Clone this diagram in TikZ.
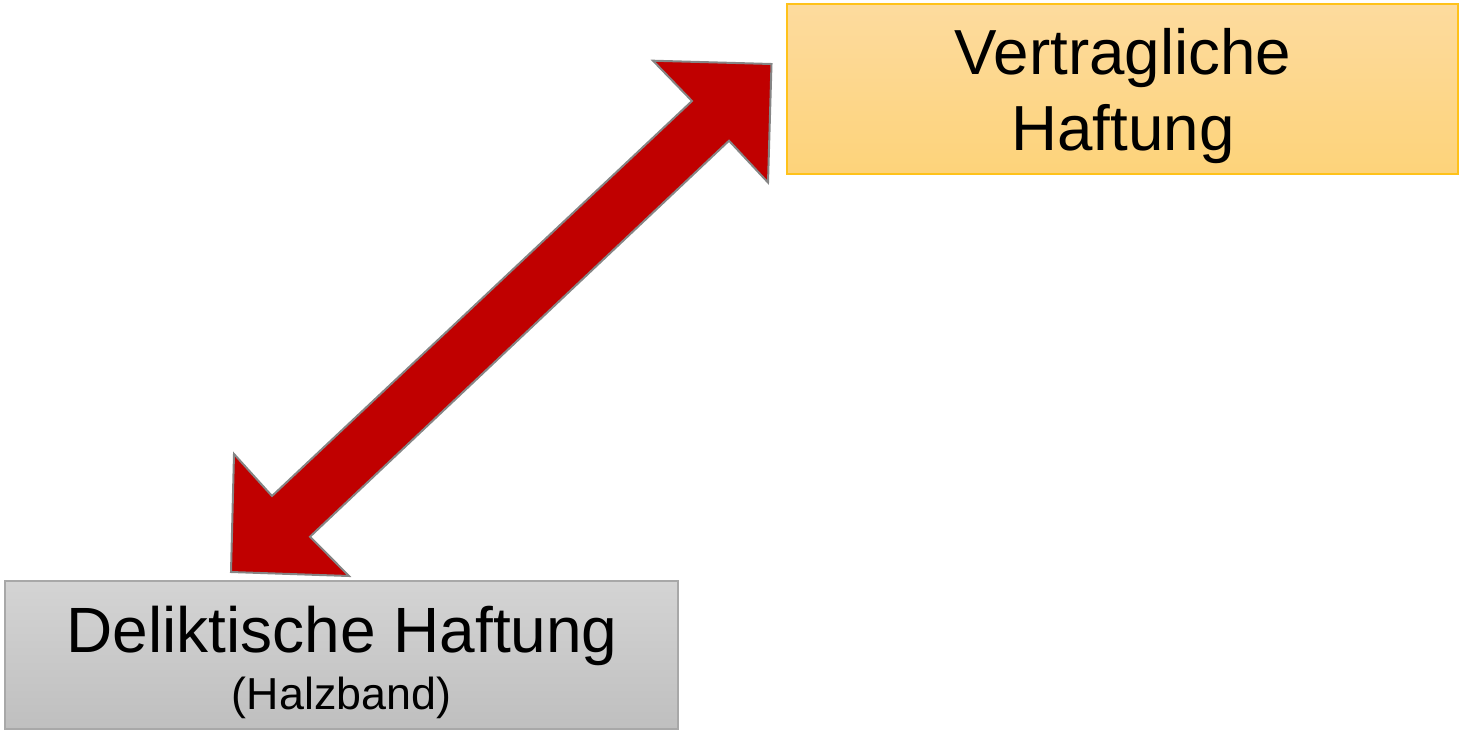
\documentclass[tikz,border=0pt]{standalone}
\usepackage{fontspec}
\setmainfont{Liberation Sans}
\definecolor{arrowred}{HTML}{C00000}
\definecolor{arrowedge}{HTML}{858585}
\definecolor{orangetop}{HTML}{FDDB9E}
\definecolor{orangebot}{HTML}{FDD37A}
\definecolor{orangeedge}{HTML}{FFC21A}
\definecolor{graytop}{HTML}{D4D4D4}
\definecolor{graybot}{HTML}{BFBFBF}
\definecolor{grayedge}{HTML}{A8A8A8}
\begin{document}
\begin{tikzpicture}[x=1pt,y=-1pt,
  orangebox/.style={rectangle,inner sep=0pt,top color=orangetop,bottom color=orangebot,draw=orangeedge,line width=1.5pt},
  graybox/.style={rectangle,inner sep=0pt,top color=graytop,bottom color=graybot,draw=grayedge,line width=1.2pt},
  bigtext/.style={inner sep=0pt,anchor=base,font=\fontsize{63.7}{70}\selectfont},
  midtext/.style={inner sep=0pt,anchor=base,font=\fontsize{64}{70}\selectfont},
  smalltext/.style={inner sep=0pt,anchor=base,font=\fontsize{44.8}{48}\selectfont},
  blockarrow/.style={fill=arrowred,draw=arrowedge,line width=2pt,line join=miter}]
\useasboundingbox (0,0) rectangle (1460,731);
% boxes
\node[orangebox,minimum width=671pt,minimum height=170pt] (vert) at (1122.5,89) {};
\node[graybox,minimum width=673pt,minimum height=148pt] (delikt) at (341.5,655) {};
% texts
\node[bigtext] (vt1) at (1123,74.5) {Vertragliche};
\node[bigtext] (vt2) at (1123,150) {Haftung};
\node[midtext] (dt1) at (342,652) {Deliktische Haftung};
\node[smalltext] (dt2) at (341.5,709) {(Halzband)};
% double block arrow
\coordinate (tipA) at (771.5,64);
\coordinate (wingAR) at (768,182.5);
\coordinate (innAR) at (729,140.7);
\coordinate (innBR) at (310,536.7);
\coordinate (wingBR) at (349,576);
\coordinate (tipB) at (231,572);
\coordinate (wingBL) at (234,454);
\coordinate (innBL) at (272,496);
\coordinate (innAL) at (692,101);
\coordinate (wingAL) at (653,60.7);
\draw[blockarrow] (tipA) -- (wingAR) -- (innAR) -- (innBR) -- (wingBR) -- (tipB) -- (wingBL) -- (innBL) -- (innAL) -- (wingAL) -- cycle;
\end{tikzpicture}
\end{document}
